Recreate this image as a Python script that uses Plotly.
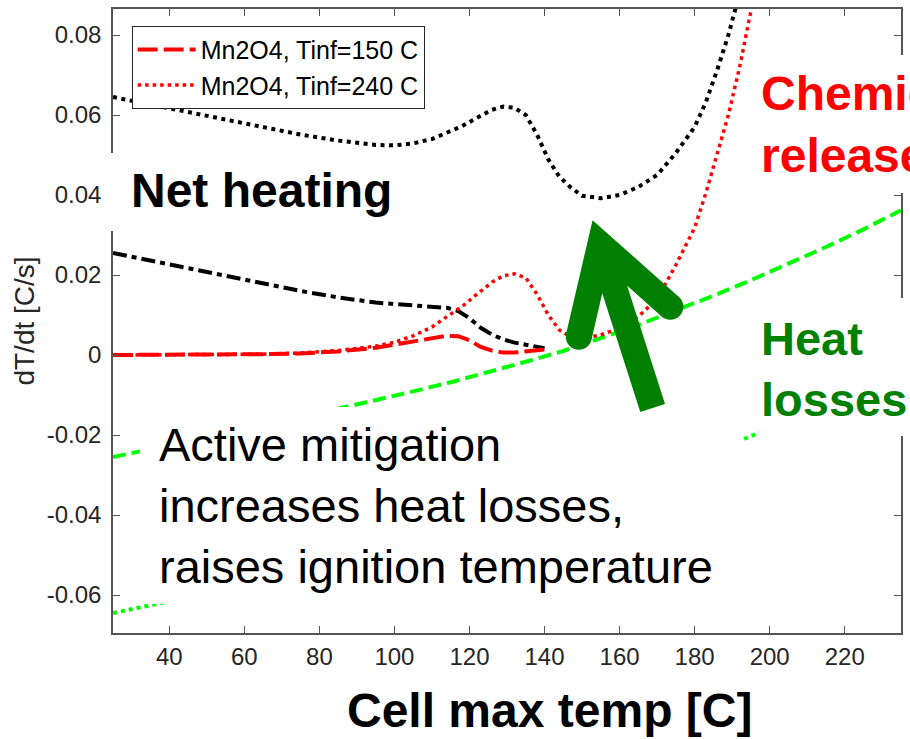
import plotly.graph_objects as go

# ---------------- data ----------------
# Heat losses (green), Tinf = 150 C and Tinf = 240 C
temp_loss = [25, 35, 45, 55, 65, 75, 85, 95, 105, 115, 125, 135, 145, 155,
             165, 175, 185, 195, 205, 215, 225, 235]
loss_150 = [-0.0255, -0.0236, -0.0217, -0.0197, -0.0177, -0.0156, -0.0135, -0.0113,
            -0.0091, -0.0068, -0.0043, -0.0017, 0.0010, 0.0042, 0.0075, 0.0112,
            0.0148, 0.0187, 0.0228, 0.0270, 0.0314, 0.0362]
loss_240 = [-0.0645, -0.0626, -0.0607, -0.0587, -0.0567, -0.0546, -0.0525, -0.0503,
            -0.0481, -0.0458, -0.0433, -0.0407, -0.0380, -0.0348, -0.0315, -0.0278,
            -0.0242, -0.0203, -0.0162, -0.0120, -0.0076, -0.0028]

# Chemical heat release and net heating, Tinf = 150 C
temp_150 = [25, 35, 45, 55, 65, 75, 85, 95, 105, 110, 114, 117, 120, 123, 126, 129,
            132, 136, 140]
chem_150 = [0, 0, 0, 0.0001, 0.0002, 0.0004, 0.0009, 0.0018, 0.0033, 0.0042, 0.0048,
            0.0047, 0.0037, 0.0020, 0.0011, 0.0006, 0.0006, 0.0010, 0.0014]
net_150 = [0.0255, 0.0236, 0.0217, 0.0198, 0.0179, 0.0160, 0.0144, 0.0131, 0.0124,
           0.0122, 0.0118, 0.0110, 0.0092, 0.0068, 0.0051, 0.0039, 0.0031, 0.0024, 0.0017]

# Chemical heat release and net heating, Tinf = 240 C
temp_240 = [25, 35, 45, 55, 65, 75, 85, 95, 100, 105, 110, 114, 118, 122, 126, 129,
            132, 135, 138, 141, 144, 147, 150, 155, 160, 165, 170, 175, 180, 183, 186,
            189, 192, 195, 198]
chem_240 = [0, 0, 0, 0.0001, 0.0002, 0.0005, 0.0011, 0.0022, 0.0032, 0.0048, 0.0070,
            0.0096, 0.0121, 0.0152, 0.0182, 0.0198, 0.0203, 0.0193, 0.0152, 0.0100,
            0.0062, 0.0045, 0.0042, 0.0050, 0.0068, 0.0096, 0.0140, 0.0225, 0.0318,
            0.0405, 0.0500, 0.0600, 0.0720, 0.0860, 0.1000]
net_240 = [0.0645, 0.0626, 0.0607, 0.0588, 0.0569, 0.0551, 0.0536, 0.0525, 0.0524,
           0.0529, 0.0540, 0.0556, 0.0572, 0.0593, 0.0613, 0.0621, 0.0618, 0.0600,
           0.0551, 0.0489, 0.0445, 0.0419, 0.0398, 0.0392, 0.0400, 0.0420, 0.0450,
           0.0505, 0.0570, 0.0632, 0.0712, 0.0800, 0.0905, 0.1030, 0.1150]

legend_names = ["Mn2O4, Tinf=150 C", "Mn2O4, Tinf=240 C"]

x_tick_vals = [40, 60, 80, 100, 120, 140, 160, 180, 200, 220]
x_tick_text = ["40", "60", "80", "100", "120", "140", "160", "180", "200", "220"]
y_tick_vals = [-0.06, -0.04, -0.02, 0, 0.02, 0.04, 0.06, 0.08]
y_tick_text = ["-0.06", "-0.04", "-0.02", "0", "0.02", "0.04", "0.06", "0.08"]
x_range = [25, 235]
y_range = [-0.0695, 0.0865]

# ---------------- figure ----------------
W, H = 910, 739
ML, MR, MT, MB = 113, 7, 9, 106
PW, PH = W - ML - MR, H - MT - MB


def px_x(px):
    return (px - ML) / PW


def px_y(py):
    return 1 - (py - MT) / PH


FONT = "Liberation Sans, Arial, Helvetica, sans-serif"
RED = "#ff0000"
LIME = "#00ff00"
DKGREEN = "#008000"
AXC = "#555555"

fig = go.Figure()

fig.add_trace(go.Scatter(x=temp_loss, y=loss_150, mode="lines", showlegend=False,
                         line=dict(color=LIME, width=4, dash="13px,6px")))
fig.add_trace(go.Scatter(x=temp_loss, y=loss_240, mode="lines", showlegend=False,
                         line=dict(color=LIME, width=4, dash="4px,4px")))
fig.add_trace(go.Scatter(x=temp_150, y=net_150, mode="lines", showlegend=False,
                         line=dict(color="black", width=4, dash="14px,5px,5px,5px")))
fig.add_trace(go.Scatter(x=temp_240, y=net_240, mode="lines", showlegend=False,
                         line=dict(color="black", width=4, dash="4px,4.5px")))
fig.add_trace(go.Scatter(x=temp_150, y=chem_150, mode="lines", name=legend_names[0],
                         line=dict(color=RED, width=4, dash="20px,6px")))
fig.add_trace(go.Scatter(x=temp_240, y=chem_240, mode="lines", name=legend_names[1],
                         line=dict(color=RED, width=3.5, dash="3.5px,4px")))

# white boxes behind the call-out texts (they hide axis lines / curves as in the reference)
boxes = [(106, 400, 153, 231), (140, 744, 407, 604), (760, 915, 298, 436), (758, 915, 55, 193)]
for x0, x1, y0, y1 in boxes:
    fig.add_shape(type="rect", xref="paper", yref="paper", layer="above",
                  x0=px_x(x0), x1=px_x(x1), y0=px_y(y1), y1=px_y(y0),
                  fillcolor="white", line=dict(width=0))

# big green arrow (data coordinates)
arrow_left = (149.14, 0.00457)
arrow_vertex = (154.86, 0.02765)
arrow_right = (173.52, 0.01207)
arrow_tail = (168.81, -0.01325)
fig.add_shape(type="path", xref="x", yref="y", layer="above",
              path=f"M{arrow_tail[0]},{arrow_tail[1]} L{arrow_vertex[0]},{arrow_vertex[1]}",
              line=dict(color=DKGREEN, width=26))
fig.add_shape(type="path", xref="x", yref="y", layer="above",
              path=(f"M{arrow_left[0]},{arrow_left[1]} L{arrow_vertex[0]},{arrow_vertex[1]} "
                    f"L{arrow_right[0]},{arrow_right[1]}"),
              line=dict(color=DKGREEN, width=26))
for cx, cy in (arrow_left, arrow_right):
    fig.add_shape(type="circle", xref="x", yref="y", layer="above",
                  xsizemode="pixel", ysizemode="pixel", xanchor=cx, yanchor=cy,
                  x0=-13, x1=13, y0=-13, y1=13,
                  fillcolor=DKGREEN, line=dict(width=0))

# call-out texts
ann = [
    dict(text="<b>Net heating</b>", px=131, py=164, size=48, color="black"),
    dict(text="Active mitigation<br>increases heat losses,<br>raises ignition temperature",
         px=159, py=418, size=47, color="black"),
    dict(text="<b>Heat<br>losses</b>", px=763, py=312, size=47, color=DKGREEN),
    dict(text="<b>Chemical<br>release</b>", px=763, py=67, size=48, color=RED),
]
for a in ann:
    fig.add_annotation(text=a["text"], xref="paper", yref="paper",
                       x=px_x(a["px"]), y=px_y(a["py"]), xanchor="left", yanchor="top",
                       align="left", showarrow=False, borderpad=0, borderwidth=0,
                       font=dict(family=FONT, size=a["size"], color=a["color"]))

# x-axis title (placed as in the reference, right of centre)
fig.add_annotation(text="<b>Cell max temp [C]</b>", xref="paper", yref="paper",
                   x=px_x(551), y=px_y(684), xanchor="center", yanchor="top",
                   showarrow=False, borderpad=0, borderwidth=0,
                   font=dict(family=FONT, size=48, color="black"))

fig.update_layout(
    width=W, height=H, autosize=False,
    margin=dict(l=ML, r=MR, t=MT, b=MB, pad=0),
    paper_bgcolor="white", plot_bgcolor="white",
    font=dict(family=FONT, color="#262626"),
    legend=dict(x=px_x(131.7), y=px_y(25.7), xanchor="left", yanchor="top",
                bgcolor="white", bordercolor="#262626", borderwidth=1,
                font=dict(family=FONT, size=25, color="black"),
                itemwidth=58, tracegroupgap=0),
    xaxis=dict(range=x_range, tickvals=x_tick_vals, ticktext=x_tick_text,
               ticks="inside", ticklen=7, tickwidth=1.3, tickcolor=AXC,
               showline=True, linecolor=AXC, linewidth=1.5, mirror="ticks",
               showgrid=False, zeroline=False, ticklabelstandoff=1,
               tickfont=dict(family=FONT, size=24, color="#262626")),
    yaxis=dict(range=y_range, tickvals=y_tick_vals, ticktext=y_tick_text,
               ticks="inside", ticklen=7, tickwidth=1.3, tickcolor=AXC,
               showline=True, linecolor=AXC, linewidth=1.5, mirror="ticks",
               showgrid=False, zeroline=False, ticklabelstandoff=5,
               tickfont=dict(family=FONT, size=24, color="#262626"),
               title=dict(text="dT/dt [C/s]", standoff=4,
                          font=dict(family=FONT, size=28, color="#262626"))),
)

fig.write_html("out.html")
